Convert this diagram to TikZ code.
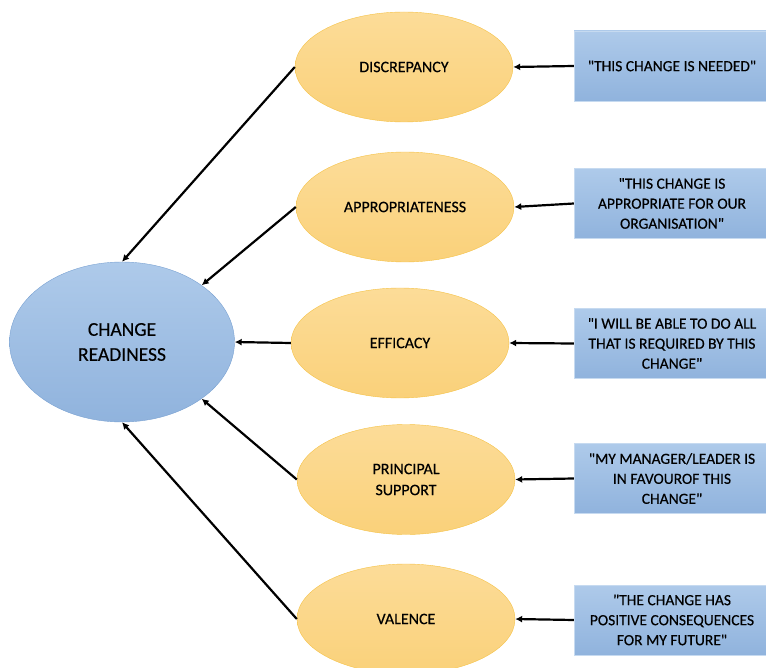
\documentclass[tikz,border=0pt]{standalone}
\usepackage{fontspec}
\setmainfont{Carlito}[FakeBold=0.4]
\usetikzlibrary{shapes.geometric, arrows.meta}

\definecolor{factortop}{HTML}{FCDC98}
\definecolor{factorbot}{HTML}{FAD17A}
\definecolor{factorline}{HTML}{F5C246}
\definecolor{readytop}{HTML}{AECAEA}
\definecolor{readybot}{HTML}{90B3DD}
\definecolor{readyline}{HTML}{7AA2D2}

\newcommand{\qq}{\textquotedbl}

\begin{document}
\begin{tikzpicture}[
    x=1pt, y=-1pt,
    ready/.style={ellipse, draw=readyline, top color=readytop, bottom color=readybot,
      minimum width=225pt, minimum height=160pt, inner sep=0pt, align=center,
      font=\fontsize{19.5}{25}\selectfont},
    factor/.style={ellipse, draw=factorline, top color=factortop, bottom color=factorbot,
      minimum width=218pt, minimum height=110pt, inner sep=0pt, align=center,
      font=\fontsize{16}{21}\selectfont},
    quote/.style={rectangle, draw=readytop!70!white, top color=readytop, bottom color=readybot,
      minimum width=196pt, minimum height=70pt, inner sep=0pt, align=center,
      font=\fontsize{15.5}{20}\selectfont},
    link/.style={draw, line width=2.2pt, -{Latex[length=7pt, width=7pt]}}]

      \useasboundingbox (0,0) rectangle (766,668);

      % centre
      \node[ready] (cr) at (122,342) {CHANGE\\READINESS};

      % factors
      \node[factor] (disc) at (404,67)    {DISCREPANCY};
      \node[factor] (appr) at (405,207)   {APPROPRIATENESS};
      \node[factor] (effi) at (400,343)   {EFFICACY};
      \node[factor] (prin) at (406,479.5) {PRINCIPAL\\SUPPORT};
      \node[factor] (vale) at (406,619)   {VALENCE};

      % statements
      \node[quote] (discq) at (672,66)    {\qq THIS CHANGE IS NEEDED\qq};
      \node[quote] (apprq) at (672,203.5) {\qq THIS CHANGE IS\\APPROPRIATE FOR OUR\\ORGANISATION\qq};
      \node[quote] (effiq) at (672,343.5) {\qq I WILL BE ABLE TO DO ALL\\THAT IS REQUIRED BY THIS\\CHANGE\qq};
      \node[quote] (prinq) at (672,478.5) {\qq MY MANAGER/LEADER IS\\IN FAVOUROF THIS\\CHANGE\qq};
      \node[quote] (valeq) at (672,620)   {\qq THE CHANGE HAS\\POSITIVE CONSEQUENCES\\FOR MY FUTURE\qq};

      \draw[link] (disc.west) -- (cr.north);
      \draw[link] (appr.west) -- (cr.north east);
      \draw[link] (effi.west) -- (cr.east);
      \draw[link] (prin.west) -- (cr.south east);
      \draw[link] (vale.west) -- (cr.south);

      \foreach \f in {disc, appr, effi, prin, vale}
        \draw[link] (\f q.west) -- (\f.east);

    \end{tikzpicture}
\end{document}
